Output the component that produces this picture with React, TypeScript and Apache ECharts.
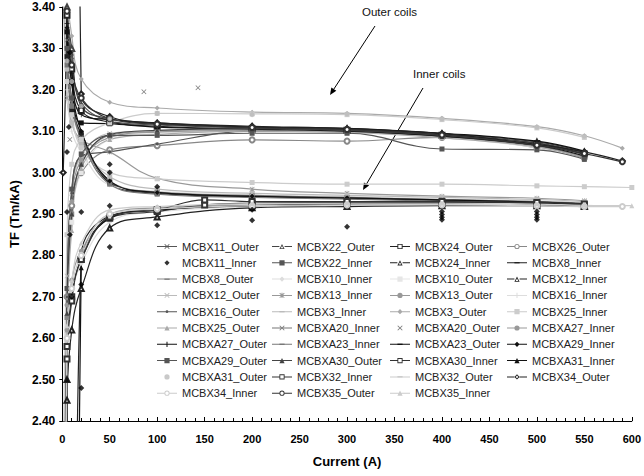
import React, { useEffect, useRef } from "react";
import * as echarts from "echarts";

// ---- currents (A) ----
const I_A = [1, 5, 10, 20, 50, 100, 200, 300, 400, 500, 550];
const I_B = [1, 5, 10, 20, 50, 100, 200, 300, 400, 500, 550, 590];
const I_C = [1, 5, 10, 20, 50, 100, 150, 200, 300, 400, 500, 550];
const I_D = [1, 5, 10, 20, 50, 100, 200, 300, 400, 500, 550, 600];
const I_A20O = [8, 86, 143];
const I_A31O = [5, 10, 20, 50, 100, 200, 300, 400, 500, 550];
const I_11I = [5, 5, 7, 8, 8, 10, 20, 20, 20, 50, 50, 50, 50, 100, 100, 200, 200, 300, 400, 400, 400, 400, 500, 500, 500, 500];

// ---- transfer function TF (Tm/kA) ----
const MCBX11_Outer = [5.5, 3.42, 3.28, 3.17, 3.125, 3.115, 3.108, 3.104, 3.092, 3.072, 3.048];
const MCBX22_Outer = [4.8, 3.4, 3.3, 3.16, 3.13, 3.118, 3.11, 3.106, 3.094, 3.074, 3.05];
const MCBX24_Outer = [6.0, 3.38, 3.25, 3.15, 3.122, 3.112, 3.105, 3.102, 3.09, 3.07, 3.045];
const MCBX26_Outer = [0.5, 2.7, 2.92, 3.0, 3.055, 3.065, 3.079, 3.076, 3.085, 3.06, 3.035];
const MCBX11_Inner = [2.905, 3.05, 3.11, 3.29, 2.85, 2.7, 2.905, 2.73, 2.48, 3.02, 3.0, 2.92, 2.82, 2.966, 2.873, 2.91, 2.885, 2.869, 2.906, 2.899, 2.892, 2.886, 2.906, 2.899, 2.892, 2.886];
const MCBX22_Inner = [5.0, 3.3, 3.18, 3.09, 2.978, 2.952, 2.944, 2.94, 2.934, 2.93, 2.925];
const MCBX24_Inner = [0.5, 2.5, 1.0, 2.8, 2.895, 2.91, 2.92, 2.925, 2.925, 2.924, 2.92];
const MCBX8_Inner = [5.5, 3.28, 3.15, 3.095, 2.975, 2.95, 2.942, 2.938, 2.933, 2.928, 2.924];
const MCBX8_Outer = [1.0, 2.65, 2.9, 3.02, 3.09, 3.1, 3.103, 3.1, 3.088, 3.066, 3.04];
const MCBX10_Inner = [1.5, 2.55, 2.7, 2.78, 2.88, 2.905, 2.918, 2.922, 2.924, 2.922, 2.92];
const MCBX10_Outer = [1.5, 2.6, 2.88, 3.0, 3.08, 3.095, 3.1, 3.098, 3.085, 3.06, 3.035];
const MCBX12_Inner = [1.0, 2.45, 2.62, 2.72, 2.866, 2.893, 2.915, 2.918, 2.92, 2.92, 2.918];
const MCBX12_Outer = [0.8, 2.75, 2.95, 3.04, 3.095, 3.1, 3.104, 3.1, 3.09, 3.068, 3.042];
const MCBX13_Inner = [3.5, 3.18, 3.12, 3.08, 3.05, 2.986, 2.96, 2.95, 2.943, 2.938, 2.932];
const MCBX13_Outer = [1.2, 2.68, 2.93, 3.03, 3.085, 3.098, 3.102, 3.099, 3.087, 3.064, 3.038];
const MCBX16_Inner = [4.0, 3.2, 3.1, 3.05, 2.97, 2.955, 2.946, 2.942, 2.936, 2.932, 2.928];
const MCBX16_Outer = [0.9, 2.7, 2.95, 3.04, 3.05, 3.069, 3.1, 3.1, 3.088, 3.064, 3.036];
const MCBX3_Inner = [4.5, 3.25, 3.12, 3.07, 2.99, 2.96, 2.95, 2.945, 2.94, 2.935, 2.93];
const MCBX3_Outer = [4.2, 3.45, 3.33, 3.226, 3.17, 3.156, 3.146, 3.143, 3.131, 3.111, 3.089, 3.059];
const MCBX25_Inner = [3.8, 3.22, 3.14, 3.06, 3.0, 2.985, 2.976, 2.972, 2.972, 2.968, 2.966, 2.964];
const MCBX25_Outer = [0.3, 2.62, 2.86, 3.01, 3.08, 3.092, 3.1, 3.097, 3.084, 3.062, 3.036];
const MCBXA20_Inner = [6.0, 3.32, 3.17, 3.085, 2.98, 2.953, 2.945, 2.94, 2.935, 2.93, 2.926];
const MCBXA20_Outer = [3.08, 3.195, 3.205];
const MCBXA27_Inner = [2.0, 2.62, 2.74, 2.81, 2.9, 2.915, 2.922, 2.926, 2.927, 2.926, 2.922];
const MCBXA27_Outer = [4.5, 3.36, 3.24, 3.14, 3.128, 3.12, 3.11, 3.107, 3.095, 3.076, 3.052];
const MCBXA23_Inner = [4.8, 3.26, 3.16, 3.08, 2.972, 2.948, 2.94, 2.936, 2.931, 2.927, 2.922];
const MCBXA23_Outer = [5.2, 3.34, 3.22, 3.12, 3.118, 3.11, 3.105, 3.1, 3.088, 3.066, 3.04];
const MCBXA29_Inner = [6.5, 3.35, 3.215, 3.1, 2.98, 2.952, 2.943, 2.939, 2.934, 2.929, 2.924];
const MCBXA29_Outer = [1.8, 2.72, 2.96, 3.045, 3.09, 3.09, 3.095, 3.095, 3.057, 3.055, 3.032];
const MCBXA30_Outer = [0.6, 2.66, 2.9, 3.02, 3.092, 3.102, 3.106, 3.102, 3.09, 3.068, 3.044];
const MCBXA30_Inner = [0.8, 2.58, 2.7, 2.79, 2.89, 2.906, 2.922, 2.926, 2.928, 2.928, 2.926, 2.922];
const MCBXA31_Inner = [-1.0, 2.5, -1.5, 2.77, 2.89, 2.91, 2.92, 2.924, 2.926, 2.925, 2.922];
const MCBXA31_Outer = [3.27, 3.22, 3.16, 3.13, 3.143, 3.14, 3.142, 3.13, 3.11, 3.088];
const MCBX32_Inner = [0.4, 2.55, 2.69, 2.79, 2.893, 2.91, 2.934, 2.93, 2.93, 2.93, 2.928, 2.924];
const MCBX32_Outer = [2.2, 2.85, 3.02, 3.08, 3.12, 3.143, 3.142, 3.14, 3.128, 3.108, 3.085];
const MCBX34_Outer = [3.0, 3.44, 7.0, 3.19, 3.135, 3.12, 3.112, 3.106, 3.094, 3.068, 3.05, 3.028];
const MCBX34_Inner = [0.2, 2.6, 2.72, 2.8, 2.9, 2.912, 2.92, 2.922, 2.922, 2.92, 2.918, 2.918];
const MCBX35_Outer = [6.5, 3.39, 3.26, 3.18, 3.13, 3.117, 3.109, 3.104, 3.091, 3.066, 3.046, 3.026];
const MCBX35_Inner = [1.2, 2.63, 2.74, 2.83, 2.91, 2.918, 2.925, 2.926, 2.926, 2.924, 2.921, 2.92];

// ---- marker shapes (plot) ----
const SYM_X = "path://M0,1L1,0L5,4L9,0L10,1L6,5L10,9L9,10L5,6L1,10L0,9L4,5Z";
const SYM_PLUS = "path://M4.3,0H5.7V4.3H10V5.7H5.7V10H4.3V5.7H0V4.3H4.3Z";
const SYM_DASH = "path://M0,4.2H10V5.8H0Z";
const SYM_STAR = "path://M0,1L1,0L5,4L9,0L10,1L6,5L10,9L9,10L5,6L1,10L0,9L4,5ZM4.3,0H5.7V10H4.3Z";

type Mk = "x" | "plus" | "dash" | "star" | "rect" | "emptyRect" | "triangle" | "emptyTriangle" | "diamond" | "emptyDiamond" | "circle" | "emptyCircle";
const PLOT_SYM: Record<Mk, string> = {
  x: SYM_X, plus: SYM_PLUS, dash: SYM_DASH, star: SYM_STAR, rect: "rect", emptyRect: "emptyRect",
  triangle: "triangle", emptyTriangle: "emptyTriangle", diamond: "diamond", emptyDiamond: "emptyDiamond",
  circle: "circle", emptyCircle: "emptyCircle",
};

// legend icon: marker centred in a 20 x 6 box, with a line unless scatter
function legendIcon(mk: Mk, withLine: boolean, small = false): string {
  const c = 10, m = 3, r = small ? 1.4 : 2.6; // centre x, centre y, half size
  const L = c - r, R = c + r, T = m - r, B = m + r;
  const gapLine = `M0,2.5H${L}V3.5H0Z M${R},2.5H20V3.5H${R}Z`;
  const fullLine = "M0,2.5H20V3.5H0Z";
  let shape = "";
  let hollow = false;
  switch (mk) {
    case "x":
      shape = `M${L},${T + 0.6}L${L + 0.6},${T}L${c},${m - 0.6}L${R - 0.6},${T}L${R},${T + 0.6}L${c + 0.6},${m}L${R},${B - 0.6}L${R - 0.6},${B}L${c},${m + 0.6}L${L + 0.6},${B}L${L},${B - 0.6}L${c - 0.6},${m}Z`;
      break;
    case "star":
      shape = `M${L},${T + 0.6}L${L + 0.6},${T}L${c},${m - 0.6}L${R - 0.6},${T}L${R},${T + 0.6}L${c + 0.6},${m}L${R},${B - 0.6}L${R - 0.6},${B}L${c},${m + 0.6}L${L + 0.6},${B}L${L},${B - 0.6}L${c - 0.6},${m}Z M${c - 0.5},${T}H${c + 0.5}V${B}H${c - 0.5}Z`;
      break;
    case "plus":
      shape = `M${c - 0.5},${T}H${c + 0.5}V${B}H${c - 0.5}Z`;
      break;
    case "dash":
      shape = `M${L},2.2H${R}V3.8H${L}Z`;
      break;
    case "rect":
      shape = `M${L},${T}H${R}V${B}H${L}Z`;
      break;
    case "emptyRect":
      hollow = true;
      shape = `M${L},${T}H${R}V${B}H${L}Z M${L + 0.9},${T + 0.9}V${B - 0.9}H${R - 0.9}V${T + 0.9}Z`;
      break;
    case "triangle":
      shape = `M${c},${T}L${R},${B}H${L}Z`;
      break;
    case "emptyTriangle":
      hollow = true;
      shape = `M${c},${T}L${R},${B}H${L}Z M${c},${T + 2}L${L + 1.3},${B - 0.8}H${R - 1.3}Z`;
      break;
    case "diamond":
      shape = `M${c},${T}L${R},${m}L${c},${B}L${L},${m}Z`;
      break;
    case "emptyDiamond":
      hollow = true;
      shape = `M${c},${T}L${R},${m}L${c},${B}L${L},${m}Z M${c},${T + 1.3}L${L + 1.3},${m}L${c},${B - 1.3}L${R - 1.3},${m}Z`;
      break;
    case "circle":
      shape = `M${L},${m}A${r},${r} 0 1,1 ${R},${m}A${r},${r} 0 1,1 ${L},${m}Z`;
      break;
    case "emptyCircle":
      hollow = true;
      shape = `M${L},${m}A${r},${r} 0 1,1 ${R},${m}A${r},${r} 0 1,1 ${L},${m}Z M${L + 0.9},${m}A${r - 0.9},${r - 0.9} 0 1,0 ${R - 0.9},${m}A${r - 0.9},${r - 0.9} 0 1,0 ${L + 0.9},${m}Z`;
      break;
  }
  if (!withLine) return "path://M0,0H0.01V0.01Z M19.99,5.99H20V6Z " + shape;
  return "path://" + (hollow ? gapLine : fullLine) + " " + shape + " M0,0H0.01V0.01Z M19.99,5.99H20V6Z";
}

type Cfg = {
  name: string; x: number[]; y: number[]; color: string; mk: Mk;
  size?: number; scatter?: boolean;
};

// order as in the legend (row by row, 4 columns)
const SERIES: Cfg[] = [
  { name: "MCBX11_Outer", x: I_A, y: MCBX11_Outer, color: "#555", mk: "x" },
  { name: "MCBX22_Outer", x: I_A, y: MCBX22_Outer, color: "#444", mk: "emptyTriangle" },
  { name: "MCBX24_Outer", x: I_A, y: MCBX24_Outer, color: "#222", mk: "emptyRect" },
  { name: "MCBX26_Outer", x: I_A, y: MCBX26_Outer, color: "#888", mk: "emptyCircle" },
  { name: "MCBX11_Inner", x: I_11I, y: MCBX11_Inner, color: "#000", mk: "diamond", scatter: true, size: 6 },
  { name: "MCBX22_Inner", x: I_A, y: MCBX22_Inner, color: "#555", mk: "rect" },
  { name: "MCBX24_Inner", x: I_A, y: MCBX24_Inner, color: "#222", mk: "emptyTriangle" },
  { name: "MCBX8_Inner", x: I_A, y: MCBX8_Inner, color: "#222", mk: "dash" },
  { name: "MCBX8_Outer", x: I_A, y: MCBX8_Outer, color: "#888", mk: "dash" },
  { name: "MCBX10_Inner", x: I_A, y: MCBX10_Inner, color: "#ddd", mk: "diamond" },
  { name: "MCBX10_Outer", x: I_A, y: MCBX10_Outer, color: "#e6e6e6", mk: "rect" },
  { name: "MCBX12_Inner", x: I_A, y: MCBX12_Inner, color: "#222", mk: "emptyTriangle" },
  { name: "MCBX12_Outer", x: I_A, y: MCBX12_Outer, color: "#bbb", mk: "x" },
  { name: "MCBX13_Inner", x: I_A, y: MCBX13_Inner, color: "#999", mk: "star" },
  { name: "MCBX13_Outer", x: I_A, y: MCBX13_Outer, color: "#999", mk: "circle" },
  { name: "MCBX16_Inner", x: I_A, y: MCBX16_Inner, color: "#ddd", mk: "plus" },
  { name: "MCBX16_Outer", x: I_A, y: MCBX16_Outer, color: "#555", mk: "circle", size: 3 },
  { name: "MCBX3_Inner", x: I_A, y: MCBX3_Inner, color: "#bbb", mk: "dash" },
  { name: "MCBX3_Outer", x: I_B, y: MCBX3_Outer, color: "#aaa", mk: "diamond" },
  { name: "MCBX25_Inner", x: I_D, y: MCBX25_Inner, color: "#ccc", mk: "rect" },
  { name: "MCBX25_Outer", x: I_A, y: MCBX25_Outer, color: "#aaa", mk: "triangle" },
  { name: "MCBXA20_Inner", x: I_A, y: MCBXA20_Inner, color: "#777", mk: "x" },
  { name: "MCBXA20_Outer", x: I_A20O, y: MCBXA20_Outer, color: "#555", mk: "x", scatter: true },
  { name: "MCBXA27_Inner", x: I_A, y: MCBXA27_Inner, color: "#999", mk: "circle" },
  { name: "MCBXA27_Outer", x: I_A, y: MCBXA27_Outer, color: "#111", mk: "plus" },
  { name: "MCBXA23_Inner", x: I_A, y: MCBXA23_Inner, color: "#777", mk: "dash" },
  { name: "MCBXA23_Outer", x: I_A, y: MCBXA23_Outer, color: "#111", mk: "dash" },
  { name: "MCBXA29_Inner", x: I_A, y: MCBXA29_Inner, color: "#111", mk: "diamond" },
  { name: "MCBXA29_Outer", x: I_A, y: MCBXA29_Outer, color: "#555", mk: "rect" },
  { name: "MCBXA30_Outer", x: I_A, y: MCBXA30_Outer, color: "#444", mk: "triangle" },
  { name: "MCBXA30_Inner", x: I_C, y: MCBXA30_Inner, color: "#333", mk: "emptyRect" },
  { name: "MCBXA31_Inner", x: I_A, y: MCBXA31_Inner, color: "#111", mk: "triangle" },
  { name: "MCBXA31_Outer", x: I_A31O, y: MCBXA31_Outer, color: "#bbb", mk: "circle", scatter: true },
  { name: "MCBX32_Inner", x: I_C, y: MCBX32_Inner, color: "#333", mk: "emptyRect" },
  { name: "MCBX32_Outer", x: I_A, y: MCBX32_Outer, color: "#ccc", mk: "dash" },
  { name: "MCBX34_Outer", x: I_B, y: MCBX34_Outer, color: "#222", mk: "emptyDiamond" },
  { name: "MCBX34_Inner", x: I_B, y: MCBX34_Inner, color: "#ccc", mk: "emptyCircle" },
  { name: "MCBX35_Outer", x: I_B, y: MCBX35_Outer, color: "#333", mk: "emptyCircle" },
  { name: "MCBX35_Inner", x: I_D, y: MCBX35_Inner, color: "#ccc", mk: "triangle" },
];

const FONT = "'Liberation Sans', Arial, sans-serif";

function arrow(x1: number, y1: number, x2: number, y2: number) {
  const ang = Math.atan2(y2 - y1, x2 - x1);
  const L = 7, W = 3;
  const bx = x2 - L * Math.cos(ang), by = y2 - L * Math.sin(ang);
  const px = -Math.sin(ang) * W, py = Math.cos(ang) * W;
  return [
    { type: "line", shape: { x1, y1, x2: bx, y2: by }, style: { stroke: "#000", lineWidth: 1 }, silent: true },
    { type: "polygon", shape: { points: [[x2, y2], [bx + px, by + py], [bx - px, by - py]] }, style: { fill: "#000" }, silent: true },
  ];
}

export default function App() {
  const ref = useRef<HTMLDivElement>(null);
  useEffect(() => {
    if (!ref.current) return;
    const chart = echarts.init(ref.current, undefined, { renderer: "svg" });
    const series = SERIES.map((c) => {
      const data = c.x.map((xv, i) => [xv, c.y[i]]);
      const hollow = c.mk.startsWith("empty");
      if (c.scatter) {
        return {
          type: "scatter", name: c.name, data, symbol: PLOT_SYM[c.mk], symbolSize: c.size ?? 5,
          itemStyle: { color: c.color }, emphasis: { disabled: true }, z: 3,
        };
      }
      return {
        type: "line", name: c.name, data, smooth: 0.4, symbol: PLOT_SYM[c.mk],
        symbolSize: c.size ?? 5, showAllSymbol: true,
        lineStyle: { color: c.color, width: 1.2 },
        itemStyle: { color: c.color, borderColor: c.color, borderWidth: hollow ? 1 : 0 },
        emphasis: { disabled: true }, z: 2,
      };
    });
    const cols = [152, 267, 385, 502];
    const legends = cols.map((left, ci) => ({
      orient: "vertical", left, top: 235,
      data: SERIES.filter((_, i) => i % 4 === ci).map((s) => ({
        name: s.name,
        icon: legendIcon(s.mk, !s.scatter, s.size === 3),
        itemStyle: { color: s.color, borderWidth: 0 },
      })),
      itemWidth: 20, itemHeight: 6, itemGap: 3.3,
      selectedMode: false,
      itemStyle: { borderWidth: 0 },
      textStyle: { fontFamily: FONT, fontSize: 11, color: "#222", lineHeight: 13 },
    }));
    chart.setOption({
      animation: false,
      backgroundColor: "#fff",
      grid: { left: 60, right: 9, top: 7, bottom: 55 },
      legend: legends,
      xAxis: {
        type: "value", min: 0, max: 600, interval: 50,
        name: "Current (A)", nameLocation: "middle", nameGap: 34,
        nameTextStyle: { fontFamily: FONT, fontSize: 13, fontWeight: "bold", color: "#000" },
        axisLine: { show: true, onZero: false, lineStyle: { color: "#000", width: 1 } },
        axisTick: { show: true, inside: true, length: 4, lineStyle: { color: "#000" } },
        minorTick: { show: true, splitNumber: 5, length: 3, lineStyle: { color: "#000" } },
        axisLabel: { fontFamily: FONT, fontSize: 11, fontWeight: "bold", color: "#000", margin: 12 },
        splitLine: { show: false },
      },
      yAxis: {
        type: "value", min: 2.4, max: 3.4, interval: 0.1,
        name: "TF (Tm/kA)", nameLocation: "middle", nameGap: 37, nameRotate: 90,
        nameTextStyle: { fontFamily: FONT, fontSize: 13, fontWeight: "bold", color: "#000" },
        axisLine: { show: true, onZero: false, lineStyle: { color: "#000", width: 1 } },
        axisTick: { show: true, inside: false, length: 3, lineStyle: { color: "#000" } },
        axisLabel: {
          fontFamily: FONT, fontSize: 12, fontWeight: "bold", color: "#000", margin: 7,
          formatter: (v: number) => v.toFixed(2),
        },
        splitLine: { show: false },
      },
      graphic: [
        { type: "text", left: 362, top: 6, style: { text: "Outer coils", fontFamily: FONT, fontSize: 11.5, fill: "#111" }, silent: true },
        { type: "text", left: 413, top: 68, style: { text: "Inner coils", fontFamily: FONT, fontSize: 11.5, fill: "#111" }, silent: true },
        ...arrow(375, 26, 330, 95),
        ...arrow(423, 88, 363, 190),
      ],
      series,
    });
    return () => chart.dispose();
  }, []);
  return <div ref={ref} style={{ position: "fixed", left: 0, top: 0, width: 644, height: 476 }} />;
}
